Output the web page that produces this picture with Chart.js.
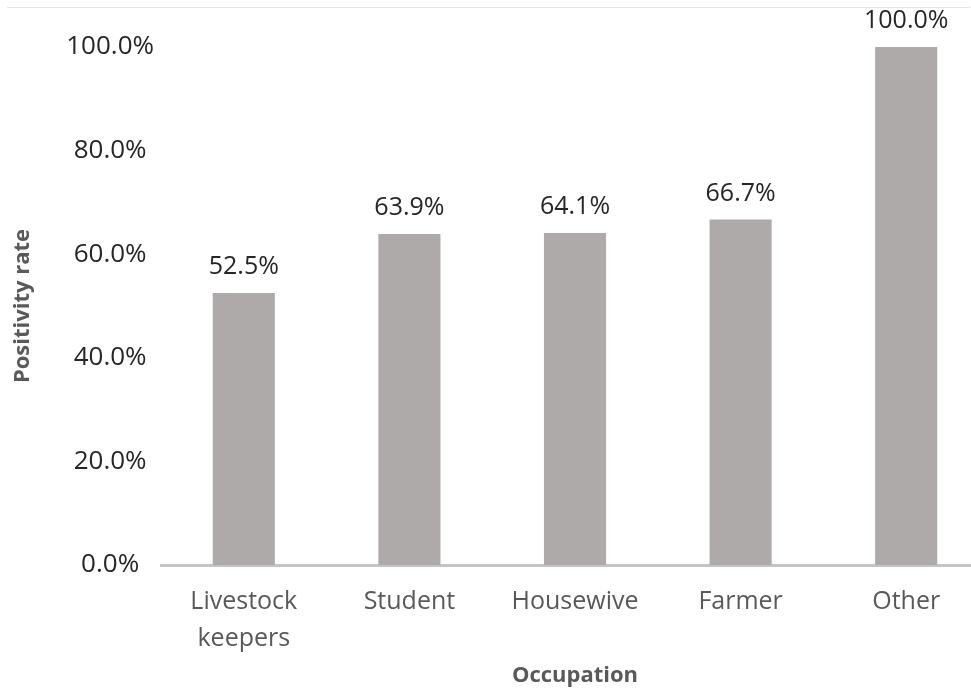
<!DOCTYPE html>
<html>
<head>
<meta charset="utf-8">
<script src="https://cdn.jsdelivr.net/npm/chart.js@4.4.1/dist/chart.umd.min.js"></script>
<style>
  html, body { margin: 0; padding: 0; background: #fff; overflow: hidden; }
  body { width: 971px; height: 689px; position: relative; }
  #frame { position: absolute; left: 7px; top: 7px; width: 963px; border-top: 1px solid #e4e4e4; }
  #wrap { position: absolute; left: 0; top: 0; width: 1000px; height: 689px; }
</style>
</head>
<body>
<div id="frame"></div>
<div id="wrap"><canvas id="chart"></canvas></div>
<script>
// Positivity rate by occupation
const occupations = [["Livestock", "keepers"], "Student", "Housewive", "Farmer", "Other"];
const positivityRate = [52.5, 63.9, 64.1, 66.7, 100.0];
const yTicks = [0, 20, 40, 60, 80, 100];

const FONT = "'Open Sans', 'Noto Sans', sans-serif";

// Writes the percentage above each bar
const valueLabels = {
  id: 'valueLabels',
  afterDatasetsDraw(chart) {
    const ctx = chart.ctx;
    const meta = chart.getDatasetMeta(0);
    const yScale = chart.scales.y;
    ctx.save();
    ctx.font = "25px " + FONT;
    ctx.fillStyle = '#262626';
    ctx.textAlign = 'center';
    ctx.textBaseline = 'middle';
    meta.data.forEach((bar, i) => {
      const v = positivityRate[i];
      ctx.fillText(v.toFixed(1) + '%', bar.x, yScale.getPixelForValue(v) - 26);
    });
    ctx.restore();
  }
};

new Chart(document.getElementById('chart'), {
  type: 'bar',
  data: {
    labels: occupations,
    datasets: [{
      data: positivityRate,
      backgroundColor: '#aeaaaa',
      borderWidth: 0,
      categoryPercentage: 1.0,
      barPercentage: 0.375
    }]
  },
  options: {
    responsive: true,
    maintainAspectRatio: false,
    animation: false,
    layout: { padding: { left: 0, right: 11, top: 47, bottom: 0 } },
    plugins: { legend: { display: false }, tooltip: { enabled: false } },
    scales: {
      x: {
        afterFit(scale) { scale.height = 124; },
        grid: { display: false, drawTicks: false },
        border: { display: true, color: '#c4c4c4', width: 3 },
        ticks: {
          color: '#595959',
          font: { family: FONT, size: 25, lineHeight: 1.45 },
          padding: 19,
          maxRotation: 0,
          autoSkip: false
        },
        title: {
          display: true,
          text: 'Occupation',
          color: '#595959',
          font: { family: FONT, size: 22, weight: 'bold' },
          padding: { top: 0, bottom: 0 }
        }
      },
      y: {
        min: 0,
        max: 100,
        afterBuildTicks(scale) { scale.ticks = yTicks.map(v => ({ value: v })); },
        afterFit(scale) { scale.width = 161; },
        grid: { display: false, drawTicks: false },
        border: { display: false },
        ticks: {
          color: '#262626',
          font: { family: FONT, size: 26 },
          crossAlign: 'center',
          padding: 7,
          callback: v => Number(v).toFixed(1) + '%'
        },
        title: {
          display: true,
          text: 'Positivity rate',
          color: '#595959',
          font: { family: FONT, size: 22, weight: 'bold' },
          padding: { top: 10, bottom: 0 }
        }
      }
    }
  },
  plugins: [valueLabels]
});
</script>
</body>
</html>
